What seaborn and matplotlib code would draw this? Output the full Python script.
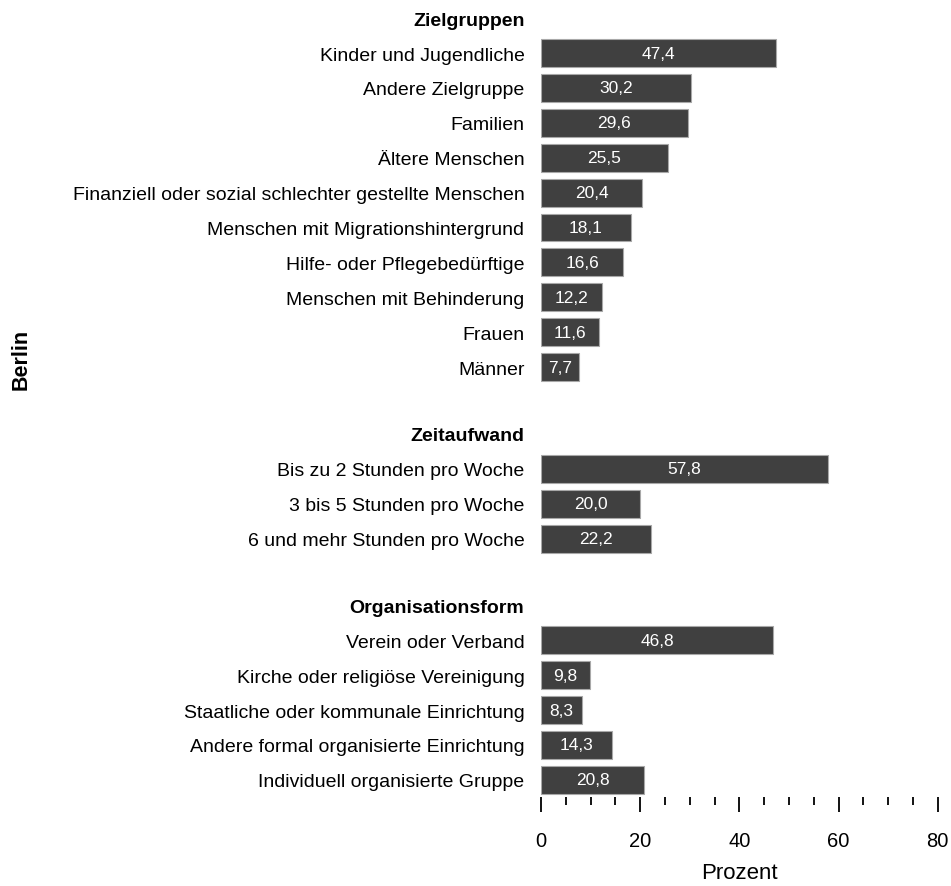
import pandas as pd
import matplotlib.pyplot as plt
import seaborn as sns
from matplotlib.ticker import MultipleLocator

# data
ziel_labels = ['Kinder und Jugendliche', 'Andere Zielgruppe', 'Familien', 'Ältere Menschen',
               'Finanziell oder sozial schlechter gestellte Menschen',
               'Menschen mit Migrationshintergrund', 'Hilfe- oder Pflegebedürftige',
               'Menschen mit Behinderung', 'Frauen', 'Männer']
ziel_values = [47.4, 30.2, 29.6, 25.5, 20.4, 18.1, 16.6, 12.2, 11.6, 7.7]

zeit_labels = ['Bis zu 2 Stunden pro Woche', '3 bis 5 Stunden pro Woche', '6 und mehr Stunden pro Woche']
zeit_values = [57.8, 20.0, 22.2]

org_labels = ['Verein oder Verband', 'Kirche oder religiöse Vereinigung',
              'Staatliche oder kommunale Einrichtung', 'Andere formal organisierte Einrichtung',
              'Individuell organisierte Gruppe']
org_values = [46.8, 9.8, 8.3, 14.3, 20.8]

sections = [('Zielgruppen', ziel_labels, ziel_values),
            ('Zeitaufwand', zeit_labels, zeit_values),
            ('Organisationsform', org_labels, org_values)]

sns.set_style('white')
plt.rcParams['font.family'] = ['Liberation Sans', 'DejaVu Sans']
plt.rcParams['text.color'] = 'black'
plt.rcParams['xtick.color'] = 'black'
plt.rcParams['ytick.color'] = 'black'
plt.rcParams['axes.labelcolor'] = 'black'

fig = plt.figure(figsize=(9.51, 8.87), dpi=100)
gs = fig.add_gridspec(3, 1, height_ratios=[11, 4, 6], hspace=0.131,
                      left=0.569, right=0.986, top=0.998, bottom=0.1)

for i, (title, labels, values) in enumerate(sections):
    ax = fig.add_subplot(gs[i])
    df = pd.DataFrame({'label': labels, 'value': values})
    order = [title] + labels
    sns.barplot(data=df, x='value', y='label', order=order, color='#404040',
                saturation=1, width=0.8, edgecolor='#a8a8a8', linewidth=0.8, ax=ax)
    txt = [f"{v:.1f}".replace('.', ',') for v in values]
    ax.bar_label(ax.containers[0], labels=txt, label_type='center', color='white', fontsize=12.5)
    ax.set_xlim(0, 80)
    ax.set_ylabel('')
    ax.set_xlabel('')
    for s in ax.spines.values():
        s.set_visible(False)
    ax.tick_params(axis='y', length=0, pad=12, labelsize=14, labelcolor='black')
    for t in ax.get_yticklabels():
        if t.get_text() == title:
            t.set_fontweight('bold')
            t.set_fontsize(14)
    if i < 2:
        ax.set_xticks([])
    else:
        ax.xaxis.set_major_locator(MultipleLocator(20))
        ax.xaxis.set_minor_locator(MultipleLocator(5))
        ax.tick_params(axis='x', which='major', bottom=True, length=11, width=1.3,
                       color='black', labelsize=14.5, labelcolor='black', pad=13)
        ax.tick_params(axis='x', which='minor', bottom=True, length=6, width=1.3, color='black')
        ax.set_xlabel('Prozent', fontsize=16)
        ax.xaxis.set_label_coords(0.5, -0.308)

fig.text(0.022, 0.595, 'Berlin', rotation=90, fontsize=15.5, fontweight='bold', va='center', ha='center')

plt.savefig('out.png', dpi=100)
